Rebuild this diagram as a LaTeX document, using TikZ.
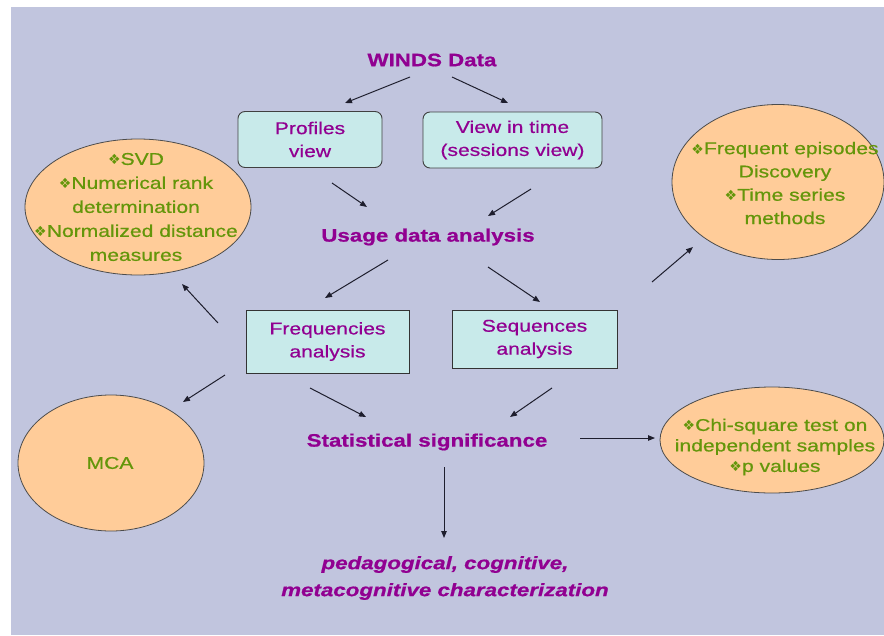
\documentclass[tikz,border=0pt]{standalone}
\usepackage{fontspec}
\setmainfont{Liberation Sans}[FakeStretch=1.24, UprightFeatures={FakeBold=0.6}, BoldFeatures={FakeBold=0.8}, BoldItalicFeatures={FakeBold=0.8}]
\newfontfamily\bulletfont{DejaVu Sans}
\usetikzlibrary{arrows.meta,shapes.geometric}

\definecolor{bgpanel}{RGB}{193,197,222}
\definecolor{plum}{RGB}{145,0,145}
\definecolor{leafgreen}{RGB}{100,150,10}
\definecolor{peach}{RGB}{255,204,153}
\definecolor{aqua}{RGB}{200,234,234}
\definecolor{inkline}{RGB}{30,30,45}

% four-dot bullet used inside the ellipses
\newcommand\dia{{\bulletfont\fontsize{14}{14}\selectfont ❖}}

\tikzset{
  heading/.style={text=plum, inner sep=0pt, font=\fontsize{18}{20}\selectfont\bfseries},
  boxtext/.style={text=plum, align=center, inner sep=0pt, font=\fontsize{17}{23}\selectfont},
  roundbox/.style={boxtext, draw=black!75, fill=aqua, rounded corners=7pt, line width=0.9pt},
  sharpbox/.style={boxtext, draw=black!80, fill=aqua, line width=0.9pt},
  oval/.style={ellipse, draw=black!70, fill=peach, line width=0.8pt, inner sep=0pt},
  ovaltext/.style={text=leafgreen, align=center, inner sep=0pt, font=\fontsize{17}{24}\selectfont},
  arr/.style={draw=inkline, line width=1pt, -{Triangle[length=7pt,width=5.5pt]}},
}

\begin{document}
\begin{tikzpicture}[x=1pt,y=-1pt]
  \useasboundingbox (0,0) rectangle (884,635);
  \fill[white] (0,0) rectangle (884,635);
  \fill[bgpanel] (11,7) rectangle (884,635);

  % headings
  \node[heading] (winds) at (432,60) {WINDS Data};
  \node[heading] (usage) at (428,237) {Usage data analysis};
  \node[heading] (stat)  at (427,442) {Statistical significance};
  \node[text=plum, align=center, inner sep=0pt,
        font=\fontsize{18}{27}\selectfont\bfseries\itshape] (charac) at (445,578)
        {pedagogical, cognitive,\\metacognitive characterization};

  % boxes
  \node[roundbox, minimum width=144pt, minimum height=56pt] (prof) at (310,139.5) {Profiles\\view};
  \node[roundbox, minimum width=179pt, minimum height=56pt] (time) at (512.5,140) {View in time\\(sessions view)};
  \node[sharpbox, minimum width=163pt, minimum height=63pt] (freq) at (327.5,341.5) {Frequencies\\analysis};
  \node[sharpbox, minimum width=165pt, minimum height=58pt] (seq) at (534.5,339) {Sequences\\analysis};

  % ellipses
  \node[oval, minimum width=226pt, minimum height=136pt] (svd) at (138,207) {};
  \node[ovaltext] (svdt) at (136,207)
    {\dia SVD\\\dia Numerical rank\\determination\\\dia Normalized distance\\measures};
  \node[oval, minimum width=186pt, minimum height=136pt] (mca) at (111,463) {};
  \node[ovaltext] (mcat) at (110,463) {MCA};
  \node[oval, minimum width=212pt, minimum height=155pt] (epis) at (778,182) {};
  \node[ovaltext, font=\fontsize{17}{23.3}\selectfont] (epist) at (785,183)
    {\dia Frequent episodes\\Discovery\\\dia Time series\\methods};
  \node[oval, minimum width=224pt, minimum height=106pt] (chi) at (772,440) {};
  \node[ovaltext, font=\fontsize{17}{20.5}\selectfont] (chit) at (775,447)
    {\dia Chi-square test on\\independent samples\\\dia p values};

  % free-floating connector ends
  \coordinate (w1) at (410,77);   \coordinate (p1) at (345,103);
  \coordinate (w2) at (452,77);   \coordinate (t1) at (508,103);
  \coordinate (p2) at (332,183);  \coordinate (u1) at (367,207);
  \coordinate (t2) at (531,189);  \coordinate (u2) at (488,216);
  \coordinate (u3) at (388,260);  \coordinate (f1) at (325,298);
  \coordinate (u4) at (488,267);  \coordinate (s1) at (540,302);
  \coordinate (f2) at (310,388);  \coordinate (st1) at (366,417);
  \coordinate (s2) at (552,388);  \coordinate (st2) at (510,417);
  \coordinate (st3) at (444,467); \coordinate (c1) at (444,538);
  \coordinate (st4) at (580,438); \coordinate (k1) at (655,438);
  \coordinate (f3) at (218,323);  \coordinate (v1) at (182,284);
  \coordinate (f4) at (225,375);  \coordinate (m1) at (183,402);
  \coordinate (s3) at (652,282);  \coordinate (e1) at (693,247);

  \draw[arr] (w1) -- (p1);
  \draw[arr] (w2) -- (t1);
  \draw[arr] (p2) -- (u1);
  \draw[arr] (t2) -- (u2);
  \draw[arr] (u3) -- (f1);
  \draw[arr] (u4) -- (s1);
  \draw[arr] (f2) -- (st1);
  \draw[arr] (s2) -- (st2);
  \draw[arr] (st3) -- (c1);
  \draw[arr] (st4) -- (k1);
  \draw[arr] (f3) -- (v1);
  \draw[arr] (f4) -- (m1);
  \draw[arr] (s3) -- (e1);
\end{tikzpicture}
\end{document}
